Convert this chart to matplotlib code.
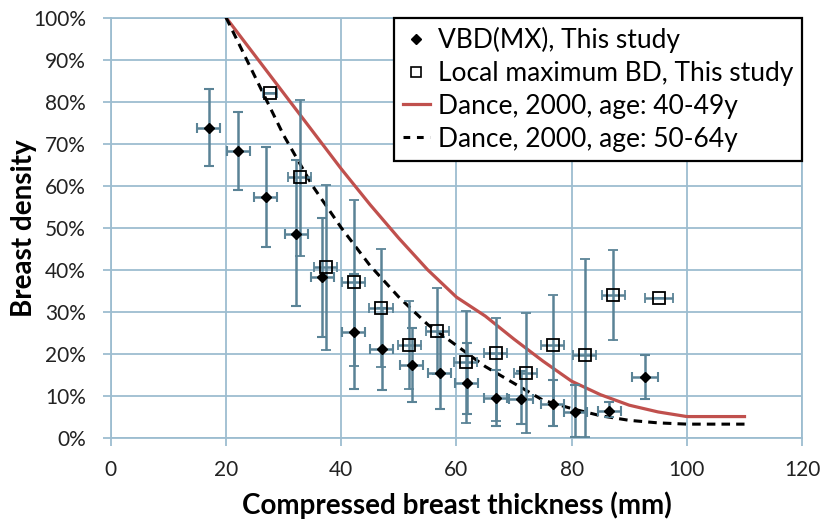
import matplotlib
matplotlib.use('Agg')
from matplotlib import pyplot as plt
from matplotlib.lines import Line2D
from matplotlib.ticker import PercentFormatter

plt.rcParams['font.family'] = ['Lato', 'DejaVu Sans']

# VBD(MX) per thickness bin: centre, mean density, error bar ends (%)
vbd_x = [17.0, 22.1, 26.9, 32.2, 36.7, 42.2, 47.0, 52.2, 57.1, 61.8, 66.8, 71.2, 76.7, 80.6, 86.5, 92.7]
vbd_y = [73.7, 68.2, 57.3, 48.4, 38.3, 25.3, 21.2, 17.4, 15.4, 13.0, 9.4, 9.2, 8.0, 6.3, 6.5, 14.4]
vbd_hi = [83.0, 77.5, 69.2, 66.2, 52.3, 39.0, 31.0, 26.1, 24.0, 22.7, 16.2, 16.0, 13.8, 12.6, 8.6, 19.7]
vbd_lo = [64.6, 59.0, 45.4, 31.3, 24.1, 11.7, 11.3, 8.6, 6.8, 5.6, 2.9, 3.3, 2.9, 0.3, 5.0, 9.3]
vbd_xerr = [2.0, 2.0, 2.0, 2.0, 2.0, 2.0, 2.0, 2.0, 2.0, 2.0, 2.0, 2.0, 2.0, 2.0, 2.0, 2.2]

# local maximum breast density
lmax_x = [27.6, 32.8, 37.3, 42.2, 46.9, 51.8, 56.7, 61.6, 66.8, 72.0, 76.7, 82.3, 87.2, 95.1]
lmax_y = [82.0, 62.0, 40.6, 37.1, 30.9, 22.1, 25.5, 18.0, 20.2, 15.4, 22.1, 19.8, 34.0, 33.2]
lmax_hi = [82.0, 80.5, 60.2, 56.7, 44.9, 32.6, 35.6, 30.3, 28.5, 29.7, 34.0, 42.5, 44.6, 33.2]
lmax_lo = [82.0, 43.3, 21.0, 17.1, 17.0, 11.6, 15.2, 3.5, 4.0, 1.3, 2.9, 0.2, 23.3, 33.2]
lmax_xerr = [1.2, 2.0, 2.0, 2.0, 2.0, 2.0, 2.0, 2.0, 2.0, 2.0, 2.0, 2.0, 2.0, 2.4]

# Dance 2000 glandularity curves
dance_t = [20, 25, 30, 35, 40, 45, 50, 55, 60, 65, 70, 75, 80, 85, 90, 95, 100, 105, 110]
dance_40_49 = [100, 91, 82, 73, 64, 55.5, 47.5, 40, 33.5, 29, 23.5, 18.3, 13.5, 10.3, 7.8, 6.2, 5.1, 5.1, 5.1]
dance_50_64 = [100, 86, 72, 60, 50, 41, 33.5, 27, 22, 17, 13, 9.0, 7, 5.3, 4.2, 3.6, 3.3, 3.3, 3.3]

GRID = '#9dbdd0'
BAR = '#5a8396'
RED = '#c0504d'

fig = plt.figure(figsize=(8.21, 5.23), dpi=100)
ax = fig.add_axes([0.135, 0.1625, 0.842, 0.804])

ax.plot(dance_t, dance_40_49, color=RED, lw=2.3, zorder=3)
ax.plot(dance_t, dance_50_64, color='black', lw=2.2, ls=(0, (2.8, 2.0)), zorder=3)

ax.errorbar(vbd_x, vbd_y,
            yerr=[[y - l for y, l in zip(vbd_y, vbd_lo)], [h - y for y, h in zip(vbd_y, vbd_hi)]],
            xerr=vbd_xerr, fmt='D', color='black', ms=5, ecolor=BAR, elinewidth=1.8,
            capsize=3.5, capthick=1.5, zorder=4)
ax.errorbar(lmax_x, lmax_y,
            yerr=[[y - l for y, l in zip(lmax_y, lmax_lo)], [h - y for y, h in zip(lmax_y, lmax_hi)]],
            xerr=lmax_xerr, fmt='s', mfc='none', mec='black', mew=1.3, ms=8, ecolor=BAR,
            elinewidth=1.8, capsize=3.5, capthick=1.5, zorder=4)

ax.set_xlim(0, 120)
ax.set_ylim(0, 100)
ax.set_xticks(range(0, 121, 20))
ax.set_yticks(range(0, 101, 10))
ax.yaxis.set_major_formatter(PercentFormatter(decimals=0))
ax.grid(True, color=GRID, lw=1.3)
ax.set_axisbelow(True)
for s in ax.spines.values():
    s.set_color(GRID)
    s.set_linewidth(1.3)
ax.tick_params(colors=GRID, labelcolor='#222222', labelsize=15, length=6, width=1.3)
ax.tick_params(axis='y', pad=12)
ax.tick_params(axis='x', pad=10)

ax.set_xlabel('Compressed breast thickness (mm)', fontsize=20, fontweight='bold', va='center')
ax.set_ylabel('Breast density', fontsize=20, fontweight='bold', va='center')
ax.xaxis.set_label_coords(0.5, -0.159)
ax.yaxis.set_label_coords(-0.126, 0.5)

handles = [
    Line2D([], [], ls='none', marker='D', ms=5, color='black'),
    Line2D([], [], ls='none', marker='s', ms=7, mfc='none', mec='black', mew=1.2),
    Line2D([], [], color=RED, lw=2.3),
    Line2D([], [], color='black', lw=2.2, ls=(0, (2.2, 2.2))),
]
labels = ['VBD(MX), This study', 'Local maximum BD, This study',
          'Dance, 2000, age: 40-49y', 'Dance, 2000, age: 50-64y']
leg = ax.legend(handles, labels, loc='upper right', bbox_to_anchor=(1.0, 1.0),
                fontsize=19, handlelength=1.0, handletextpad=0.3, labelspacing=0.3,
                borderpad=0.35, borderaxespad=0.0, fancybox=False, framealpha=1)
leg.get_frame().set_edgecolor('black')
leg.get_frame().set_linewidth(1.6)

fig.savefig('out.png', dpi=100)
